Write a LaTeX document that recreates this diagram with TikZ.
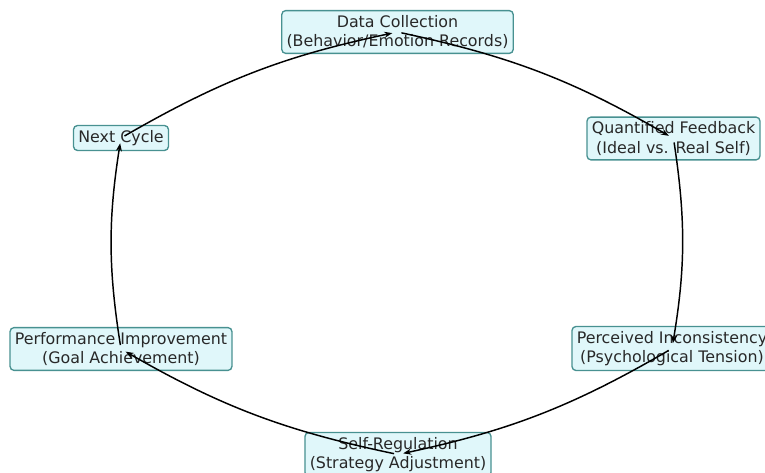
\documentclass[tikz,border=0pt]{standalone}
\usepackage{fontspec}
\setmainfont{DejaVu Sans}
\usetikzlibrary{arrows.meta}
\definecolor{boxfill}{RGB}{224,247,250}
\definecolor{boxedge}{RGB}{72,145,145}
\definecolor{txt}{RGB}{40,40,40}
\begin{document}
\begin{tikzpicture}[x=0.75pt,y=-0.75pt,
  stagebox/.style={draw=boxedge,fill=boxfill,line width=1pt,rounded corners=3pt,
    align=center,text=txt,inner xsep=3.6pt,inner ysep=3.6pt,
    font=\fontsize{11.9}{14.3}\selectfont},
  flow/.style={line width=1.1pt,-{Stealth[length=6pt,width=4.5pt]},shorten >=4pt,shorten <=3pt}]
\useasboundingbox (0,0) rectangle (765,473);
\node[stagebox] (dc) at (397.5,32) {Data Collection\\(Behavior/Emotion Records)};
\node[stagebox] (qf) at (673.5,138.5) {Quantified Feedback\\(Ideal vs. Real Self)};
\node[stagebox] (pi) at (672,348.5) {Perceived Inconsistency\\(Psychological Tension)};
\node[stagebox] (sr) at (398,454.5) {Self-Regulation\\(Strategy Adjustment)};
\node[stagebox] (pf) at (121,349) {Performance Improvement\\(Goal Achievement)};
\node[stagebox] (nc) at (121,138) {Next Cycle};
\draw[flow] (nc.center) to[bend left=9] (dc.center);
\draw[flow] (dc.center) to[bend left=9] (qf.center);
\draw[flow] (qf.center) to[bend left=9] (pi.center);
\draw[flow] (pi.center) to[bend left=9] (sr.center);
\draw[flow] (sr.center) to[bend left=9] (pf.center);
\draw[flow] (pf.center) to[bend left=9] (nc.center);
\end{tikzpicture}
\end{document}
